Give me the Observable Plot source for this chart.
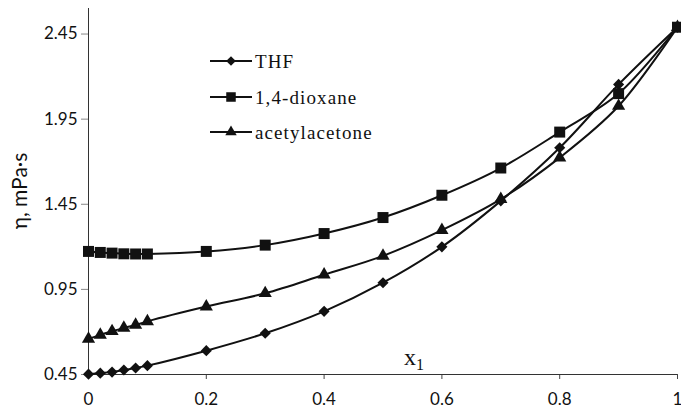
<!DOCTYPE html>
<html>
<head>
<meta charset="utf-8">
<script src="https://cdn.jsdelivr.net/npm/d3@7"></script>
<script src="https://cdn.jsdelivr.net/npm/@observablehq/plot@0.6"></script>
<style>
  html, body { margin: 0; padding: 0; background: #fff; }
  #chart svg { display: block; }
</style>
</head>
<body>
<div id="chart"></div>
<script>
const x1Values = [0, 0.02, 0.04, 0.06, 0.08, 0.1, 0.2, 0.3, 0.4, 0.5, 0.6, 0.7, 0.8, 0.9, 1];
const thf =      [0.452, 0.458, 0.464, 0.476, 0.488, 0.502, 0.590, 0.692, 0.821, 0.989, 1.200, 1.470, 1.782, 2.154, 2.490];
const dioxane =  [1.173, 1.167, 1.163, 1.159, 1.158, 1.158, 1.173, 1.210, 1.278, 1.372, 1.503, 1.663, 1.874, 2.100, 2.490];
const acac =     [0.659, 0.683, 0.704, 0.724, 0.741, 0.762, 0.849, 0.927, 1.036, 1.147, 1.298, 1.480, 1.724, 2.027, 2.490];
const seriesNames = ["THF", "1,4-dioxane", "acetylacetone"];
const seriesSymbols = ["diamond2", "square", "triangle"];
const seriesR = [5.0, 6.2, 4.9];
const yTicks = [0.45, 0.95, 1.45, 1.95, 2.45];
const xTicks = [0, 0.2, 0.4, 0.6, 0.8, 1];
const yLabel = "η, mPa·s";
const xLabel = "x";
const xLabelSub = "1";

const allSeries = [thf, dioxane, acac];
const rows = [];
allSeries.forEach((vals, si) => {
  vals.forEach((v, i) => rows.push({series: seriesNames[si], x: x1Values[i], y: v}));
});

const sans = "Lato, 'Open Sans', sans-serif";
const serif = "'Liberation Serif', 'DejaVu Serif', serif";

const marks = [
  Plot.axisY(yTicks, {tickSize: 7, tickPadding: 4, stroke: "#888", fill: "#111", fontSize: 17, tickFormat: d => d.toFixed(2), label: null}),
  Plot.axisX(xTicks, {tickSize: 5, tickPadding: 13, stroke: "#444", fill: "#111", fontSize: 17, tickFormat: d => String(d), label: null}),
  Plot.ruleX([0], {y1: 0.45, y2: 2.6, stroke: "#333", strokeWidth: 1}),
  Plot.ruleY([0.45], {stroke: "#333", strokeWidth: 1})
];
seriesNames.forEach((name, si) => {
  const d = rows.filter(r => r.series === name);
  marks.push(Plot.line(d, {x: "x", y: "y", curve: "catmull-rom", stroke: "#111", strokeWidth: 2}));
});
seriesNames.forEach((name, si) => {
  const d = rows.filter(r => r.series === name);
  marks.push(Plot.dot(d, {x: "x", y: "y", symbol: () => seriesSymbols[si], r: seriesR[si], fill: "#111", stroke: "none"}));
});

const plot = Plot.plot({
  width: 681,
  height: 408,
  marginLeft: 88,
  marginRight: 4,
  marginTop: 8,
  marginBottom: 34,
  style: {fontFamily: sans, background: "#fff", overflow: "visible"},
  x: {domain: [0, 1], axis: null},
  y: {domain: [0.45, 2.6], axis: null},
  symbol: {type: "identity"},
  marks
});

document.getElementById("chart").appendChild(plot);

const svg = d3.select(plot);

// y axis title
svg.append("text")
  .attr("transform", "translate(27,191) rotate(-90)")
  .attr("text-anchor", "middle")
  .attr("font-family", sans)
  .attr("font-size", 21)
  .attr("fill", "#111")
  .text(yLabel);

// x axis title (inside the plot)
const xt = svg.append("text")
  .attr("x", 404)
  .attr("y", 365)
  .attr("text-anchor", "start")
  .attr("font-family", serif)
  .attr("font-size", 24)
  .attr("fill", "#111");
xt.append("tspan").text(xLabel);
xt.append("tspan").attr("font-size", 16).attr("dy", 5).text(xLabelSub);

// legend
const legY = [61, 97, 132];
const symGen = [d3.symbolDiamond2, d3.symbolSquare, d3.symbolTriangle];
seriesNames.forEach((name, si) => {
  const g = svg.append("g").attr("transform", `translate(0,${legY[si]})`);
  g.append("line").attr("x1", 210).attr("x2", 252).attr("y1", 0).attr("y2", 0)
    .attr("stroke", "#111").attr("stroke-width", 2);
  const size = Math.PI * seriesR[si] * seriesR[si] * 0.75;
  g.append("path").attr("transform", "translate(231,0)")
    .attr("d", d3.symbol(symGen[si], size)()).attr("fill", "#111");
  g.append("text").attr("x", 255).attr("y", 0).attr("dy", "0.35em")
    .attr("text-anchor", "start")
    .attr("font-family", serif).attr("font-size", 19).attr("letter-spacing", 1.1)
    .attr("fill", "#111")
    .text(name);
});
</script>
</body>
</html>
